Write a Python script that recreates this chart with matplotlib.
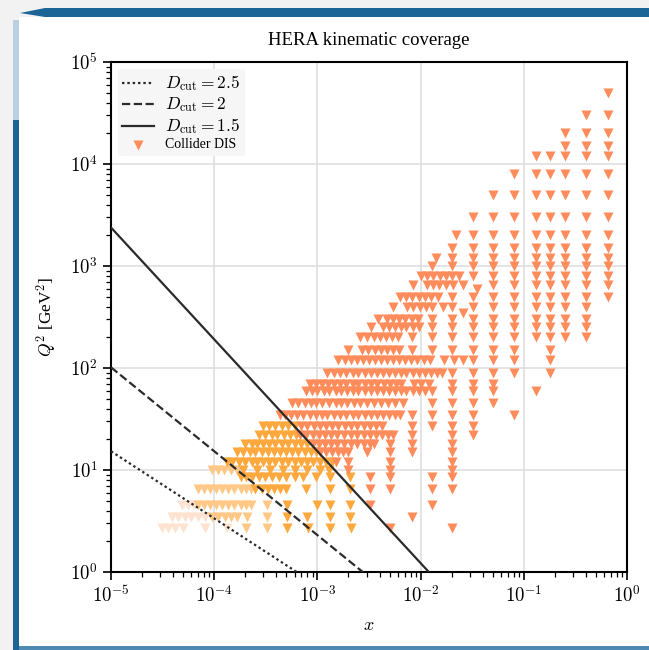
import numpy as np
import matplotlib
matplotlib.use("Agg")
import matplotlib.pyplot as plt
from matplotlib.patches import Rectangle, Polygon
from matplotlib.ticker import FuncFormatter

plt.rcParams['font.family'] = ['Liberation Serif', 'DejaVu Serif']
plt.rcParams['mathtext.fontset'] = 'cm'

# data points (Q^2 -> list of x), one dict per colour group
coral_pts = {
    50000: [0.65],
    30000: [0.4, 0.65],
    20000: [0.25, 0.4, 0.65],
    15000: [0.25, 0.4, 0.65],
    12000: [0.13, 0.18, 0.25, 0.4, 0.65],
    8000: [0.08, 0.13, 0.18, 0.25, 0.4, 0.65],
    5000: [0.05, 0.08, 0.13, 0.18, 0.25, 0.4, 0.65],
    3000: [0.032, 0.05, 0.08, 0.13, 0.18, 0.25, 0.4, 0.65],
    2000: [0.022, 0.032, 0.05, 0.08, 0.13, 0.18, 0.25, 0.4, 0.65],
    1500: [0.02, 0.032, 0.05, 0.08, 0.13, 0.18, 0.25, 0.4, 0.65],
    1200: [0.014, 0.02, 0.032, 0.05, 0.08, 0.13, 0.18, 0.25, 0.4, 0.65],
    1000: [0.013, 0.02, 0.032, 0.05, 0.08, 0.13, 0.18, 0.25, 0.4, 0.65],
    800: [0.0101, 0.0116, 0.0133, 0.0153, 0.0176, 0.0203, 0.0235, 0.032, 0.05, 0.08,
          0.13, 0.18, 0.25, 0.4, 0.65],
    650: [0.0085, 0.0115, 0.0132, 0.0152, 0.0175, 0.0205, 0.026, 0.05, 0.08, 0.13,
          0.18, 0.25, 0.4, 0.65],
    600: [0.035],
    500: [0.0063, 0.0072, 0.0083, 0.0096, 0.011, 0.0127, 0.0146, 0.02, 0.032, 0.05,
          0.08, 0.13, 0.18, 0.25, 0.4, 0.65],
    400: [0.0054, 0.0074, 0.0085, 0.0098, 0.0113, 0.013, 0.0165, 0.02, 0.032, 0.05,
          0.08, 0.13, 0.18, 0.25, 0.4],
    350: [0.026],
    300: [0.0039, 0.0047, 0.0054, 0.0062, 0.0071, 0.0082, 0.0094, 0.013, 0.02, 0.032,
          0.05, 0.08, 0.13, 0.18, 0.25, 0.4],
    250: [0.0033, 0.0043, 0.0049, 0.0056, 0.0064, 0.0073, 0.0084, 0.0096, 0.013, 0.02,
          0.032, 0.05, 0.08, 0.13, 0.18, 0.25, 0.4],
    200: [0.0026, 0.003, 0.0035, 0.004, 0.0046, 0.0053, 0.006, 0.0082, 0.013, 0.02,
          0.032, 0.05, 0.08, 0.13, 0.18, 0.25, 0.4],
    150: [0.002, 0.0027, 0.0031, 0.0036, 0.0041, 0.0047, 0.0054, 0.0062, 0.0082, 0.013,
          0.02, 0.032, 0.05, 0.08, 0.18],
    120: [0.0016, 0.00185, 0.0021, 0.0024, 0.00275, 0.00315, 0.0036, 0.0041, 0.0047,
          0.0054, 0.0062, 0.0071, 0.0081, 0.0093, 0.0107, 0.0122, 0.017, 0.021, 0.0255,
          0.032, 0.05, 0.08, 0.18],
    90: [0.00125, 0.00145, 0.00165, 0.0019, 0.0022, 0.0025, 0.0029, 0.0033, 0.0038,
         0.0043, 0.0049, 0.0056, 0.0064, 0.0073, 0.0084, 0.0096, 0.011, 0.0125, 0.0145,
         0.016, 0.02, 0.032, 0.05, 0.08, 0.18],
    70: [0.00085, 0.00097, 0.0011, 0.00127, 0.00145, 0.00165, 0.0019, 0.0022, 0.0025,
         0.0029, 0.0033, 0.0038, 0.0044, 0.005, 0.0058, 0.0065, 0.0087, 0.01, 0.012,
         0.02, 0.032, 0.05],
    60: [0.00077, 0.00088, 0.001, 0.00115, 0.0013, 0.0015, 0.0017, 0.00195, 0.0022,
         0.0025, 0.0029, 0.0033, 0.0038, 0.0043, 0.0049, 0.0056, 0.0064, 0.0073, 0.0084,
         0.0096, 0.011, 0.013, 0.02, 0.032, 0.05, 0.13],
    45: [0.00057, 0.00065, 0.00075, 0.00086, 0.00098, 0.00112, 0.0013, 0.0015, 0.0017,
         0.00195, 0.00225, 0.0026, 0.003, 0.0035, 0.0041, 0.0048, 0.0056, 0.0068, 0.013,
         0.02, 0.032, 0.05],
    35: [0.00043, 0.00049, 0.00056, 0.00064, 0.00073, 0.00084, 0.00096, 0.0011, 0.00125,
         0.00145, 0.00165, 0.0019, 0.0022, 0.0025, 0.0029, 0.0033, 0.0038, 0.0043,
         0.0049, 0.0056, 0.0063, 0.0082, 0.013, 0.02, 0.032, 0.08],
    27: [0.0007, 0.0008, 0.00092, 0.00105, 0.0012, 0.0014, 0.0016, 0.00185, 0.0021,
         0.0024, 0.0028, 0.0032, 0.0037, 0.0042, 0.0082, 0.013, 0.02, 0.032],
    22: [0.00068, 0.00078, 0.0009, 0.00103, 0.00118, 0.00135, 0.00155, 0.0018, 0.0021,
         0.0024, 0.0028, 0.0032, 0.0037, 0.0042, 0.0048, 0.0054, 0.0082, 0.02, 0.032],
    18: [0.0009, 0.00103, 0.00118, 0.00135, 0.00155, 0.0018, 0.0021, 0.0024, 0.0028,
         0.0032, 0.0035, 0.005, 0.0082, 0.02],
    15: [0.00106, 0.0012, 0.0014, 0.0016, 0.00177, 0.002, 0.003, 0.005, 0.0082, 0.02],
    12: [0.0015, 0.002, 0.005, 0.02],
    10: [0.002, 0.005, 0.02],
    8.5: [0.0032, 0.005, 0.0128, 0.02],
    6.5: [0.0032, 0.005, 0.0128, 0.02],
    4.5: [0.0032, 0.0128],
    3.5: [0.0082],
    2.7: [0.005, 0.02],
}

orange_pts = {
    27: [0.0003, 0.00034, 0.00039, 0.00045, 0.00052, 0.0006],
    22: [0.00027, 0.00031, 0.00036, 0.00041, 0.00047, 0.00054, 0.00062],
    18: [0.0002, 0.00023, 0.00026, 0.0003, 0.00034, 0.00039, 0.00045, 0.00052, 0.0006,
         0.00069, 0.00079],
    15: [0.000166, 0.00019, 0.00022, 0.00025, 0.00029, 0.00033, 0.00038, 0.00043, 0.0005,
         0.00057, 0.00065, 0.00075, 0.00086, 0.00098],
    12: [0.000133, 0.00015, 0.000175, 0.0002, 0.00023, 0.00026, 0.0003, 0.00034, 0.00039,
         0.00045, 0.00052, 0.0006, 0.00069, 0.00079, 0.0009, 0.00105, 0.0012, 0.0014],
    10: [0.00019, 0.00026, 0.00035, 0.00046, 0.0006, 0.0008, 0.00105, 0.0013],
    8.5: [0.00018, 0.000205, 0.000235, 0.00027, 0.00031, 0.00036, 0.00042, 0.0005, 0.0006,
          0.00073, 0.00098, 0.00132, 0.00207],
    6.5: [0.00025, 0.00029, 0.00033, 0.00038, 0.00043, 0.0005, 0.00078, 0.00132, 0.00207],
    4.5: [0.00051, 0.001, 0.00132, 0.00207],
    3.5: [0.00051, 0.00079, 0.00132, 0.00207],
    2.7: [0.00051, 0.00081, 0.00132, 0.0021],
}

light_pts = {
    10: [0.000095, 0.00011, 0.000125, 0.000145, 0.000165],
    6.5: [0.00007, 0.00008, 0.000092, 0.000105, 0.00012, 0.000137, 0.000157, 0.00018,
          0.000205, 0.000225],
    4.5: [0.00007, 0.00008, 0.000092, 0.000105, 0.00012, 0.000137, 0.000157, 0.00018,
          0.000205, 0.000225, 0.000325],
    3.5: [0.000095, 0.00011, 0.000127, 0.000145, 0.000166, 0.000207, 0.000325],
    2.7: [0.000205, 0.000325],
}

pale_pts = {
    4.5: [0.000049, 0.000056, 0.000064],
    3.5: [0.000039, 0.000045, 0.000052, 0.00006, 0.00007, 0.000082],
    2.7: [0.000031, 0.000036, 0.000042, 0.00005, 0.000082, 0.000133],
}

# D_cut curves: Q^2 = lam2 * x^(-k/D)
d_cuts = [2.5, 2, 1.5]
d_styles = [(0, (1.1, 1.3)), '--', '-']
lam2 = 10 ** -2.106
k_slope = 1.645


def flatten(pts):
    xs, qs = [], []
    for q2, xl in pts.items():
        for x in xl:
            xs.append(x)
            qs.append(q2)
    return np.array(xs), np.array(qs)


W, H = 649, 650
fig = plt.figure(figsize=(W / 100, H / 100), dpi=100)
fig.patch.set_facecolor('#f2f2f2')


def fr(x0, y0, w, h, **kw):
    # rectangle in pixel coords (top-left origin), behind the axes
    fig.patches.append(Rectangle((x0 / W, 1 - (y0 + h) / H), w / W, h / H,
                                 transform=fig.transFigure, figure=fig, zorder=-5, **kw))


fr(19, 17, 630, 630, color='white', lw=0)
fr(13, 20, 6, 100, color='#b9d0e2', lw=0)
fr(13, 120, 6, 530, color='#1a6496', lw=0)
fr(19, 646, 630, 4, color='#4f8ab5', lw=0)
top = [(20 / W, 1 - 13 / H), (45 / W, 1 - 8 / H), (1, 1 - 8 / H), (1, 1 - 17 / H),
       (45 / W, 1 - 17 / H)]
fig.patches.append(Polygon(top, closed=True, transform=fig.transFigure, figure=fig,
                           color='#1a6496', lw=0, zorder=-5))

ax = fig.add_axes([111 / W, 1 - 572 / H, 516 / W, 510 / H])
ax.set_facecolor('white')

groups = [(pale_pts, '#ffe2cf'), (light_pts, '#ffc886'), (orange_pts, '#ffa83d'),
          (coral_pts, '#ff8c5a')]
for pts, col in groups:
    xs, qs = flatten(pts)
    lab = 'Collider DIS' if pts is coral_pts else None
    ax.scatter(xs, qs, marker='v', s=52, color=col, linewidths=0, zorder=2, label=lab)

xx = np.logspace(-5, 0, 400)
for D, ls in zip(d_cuts, d_styles):
    ax.plot(xx, lam2 * xx ** (-k_slope / D), ls=ls, color='#2b2b2b', lw=1.6, zorder=3,
            label=r'$D_{\rm cut} = %s$' % D)

ax.set_xscale('log')
ax.set_yscale('log')
ax.set_xlim(1e-5, 1)
ax.set_ylim(1, 1e5)
ax.grid(True, which='major', color='#dddddd', lw=1.1)
ax.set_axisbelow(True)

fmt = FuncFormatter(lambda v, p: r'$10^{%d}$' % round(np.log10(v)))
ax.xaxis.set_major_formatter(fmt)
ax.yaxis.set_major_formatter(fmt)
ax.tick_params(which='major', direction='out', length=6, width=1.2, labelsize=13.5)
ax.tick_params(which='minor', direction='out', length=3.5, width=0.9)
for sp in ax.spines.values():
    sp.set_linewidth(1.5)

ax.set_title('HERA kinematic coverage', fontsize=13.5, pad=12)
ax.set_xlabel('$x$', fontsize=13, labelpad=8)
ax.set_ylabel('$Q^2$ [GeV$^2$]', fontsize=12.5, labelpad=8)

h, l = ax.get_legend_handles_labels()
order = [1, 2, 3, 0]
leg = ax.legend([h[i] for i in order], [l[i] for i in order], loc='upper left',
                fontsize=10, frameon=True, facecolor='#f6f6f6', edgecolor='#f6f6f6',
                framealpha=1, handlelength=2.3, borderpad=0.3, labelspacing=0.15)
for t in leg.get_texts()[:3]:
    t.set_fontsize(12.5)

fig.savefig('out.png', dpi=100, facecolor=fig.get_facecolor())
